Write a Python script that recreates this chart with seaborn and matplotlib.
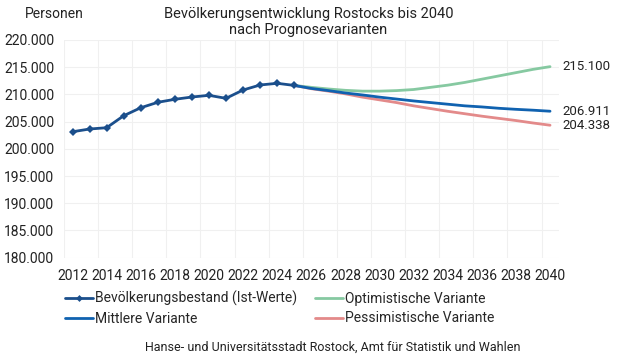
import matplotlib
matplotlib.use("Agg")
import matplotlib.pyplot as plt
from matplotlib.ticker import FixedLocator, FuncFormatter
from matplotlib.lines import Line2D
import seaborn as sns
import pandas as pd

# ---- data ----
hist_years = list(range(2012, 2026))
hist_values = [203.14, 203.64, 203.88, 206.08, 207.55, 208.55, 209.10, 209.52,
               209.83, 209.28, 210.81, 211.73, 212.04, 211.65]

proj_years = list(range(2025, 2041))
mittlere = [211.65, 211.1, 210.7, 210.26, 209.9, 209.5, 209.15, 208.8, 208.5,
            208.2, 207.9, 207.7, 207.45, 207.26, 207.1, 206.911]
optimistisch = [211.65, 211.3, 211.0, 210.75, 210.6, 210.6, 210.7, 210.9, 211.3,
                211.7, 212.2, 212.8, 213.4, 214.0, 214.6, 215.1]
pessimistisch = [211.65, 211.05, 210.6, 210.1, 209.5, 209.0, 208.5, 207.9, 207.4,
                 206.9, 206.45, 206.0, 205.6, 205.2, 204.75, 204.338]

end_labels = ["215.100", "206.911", "204.338"]
y_ticks = [180, 185, 190, 195, 200, 205, 210, 215, 220]
x_ticks = list(range(2012, 2041, 2))

s_hist = "Bevölkerungsbestand (Ist-Werte)"
s_mid = "Mittlere Variante"
s_opt = "Optimistische Variante"
s_pes = "Pessimistische Variante"

colors = {s_hist: "#1b4f8c", s_mid: "#1062b0", s_opt: "#86c9a1", s_pes: "#e38a8a"}

df = pd.concat([
    pd.DataFrame({"Jahr": proj_years, "Wert": optimistisch, "Serie": s_opt}),
    pd.DataFrame({"Jahr": proj_years, "Wert": pessimistisch, "Serie": s_pes}),
    pd.DataFrame({"Jahr": proj_years, "Wert": mittlere, "Serie": s_mid}),
], ignore_index=True)
df_hist = pd.DataFrame({"Jahr": hist_years, "Wert": hist_values, "Serie": s_hist})

sns.set_style("white")
plt.rcParams["font.family"] = ["Roboto", "DejaVu Sans"]

fig = plt.figure(figsize=(6.17, 3.57), dpi=100)
ax = fig.add_axes([0.1037, 0.2782, 0.8016, 0.6098])

sns.lineplot(data=df, x="Jahr", y="Wert", hue="Serie", palette=colors,
             linewidth=2, ax=ax, legend=False)
sns.lineplot(data=df_hist, x="Jahr", y="Wert", hue="Serie", palette=colors,
             linewidth=2, marker="D", markersize=4, markeredgewidth=0,
             ax=ax, legend=False)

ax.set_xlim(2011.5, 2040.5)
ax.set_ylim(180, 220)
ax.set_xticks(x_ticks)
ax.xaxis.set_minor_locator(FixedLocator([2011.5 + 2 * k for k in range(15)]))
ax.set_yticks(y_ticks)
ax.yaxis.set_major_formatter(FuncFormatter(lambda v, p: f"{int(v)}.000"))
ax.grid(False)
ax.grid(True, which="minor", axis="x", color="#f0f0f0", linewidth=0.8)
ax.grid(True, which="major", axis="y", color="#f0f0f0", linewidth=0.8)
ax.tick_params(axis="both", which="both", length=0, labelsize=10, colors="#222222")
ax.tick_params(axis="x", pad=8)
ax.tick_params(axis="y", pad=7)
for s in ax.spines.values():
    s.set_visible(False)
ax.set_xlabel("")
ax.set_ylabel("")

# end labels
for val, lab in zip([optimistisch[-1], mittlere[-1], pessimistisch[-1]], end_labels):
    ax.annotate(lab, xy=(2040, val), xytext=(9, 0), textcoords="offset points",
                va="center", ha="left", fontsize=9.5, color="#222222",
                annotation_clip=False)

fig.text(0.04, 0.96, "Personen", fontsize=10, ha="left", va="center", color="#222222")
fig.text(0.5, 0.96, "Bevölkerungsentwicklung Rostocks bis 2040", fontsize=10.5,
         ha="center", va="center", color="#222222")
fig.text(0.5, 0.915, "nach Prognosevarianten", fontsize=10.5,
         ha="center", va="center", color="#222222")

handles = [
    Line2D([], [], color=colors[s_hist], lw=2, marker="D", markersize=3.5, markeredgewidth=0),
    Line2D([], [], color=colors[s_mid], lw=2),
    Line2D([], [], color=colors[s_opt], lw=2),
    Line2D([], [], color=colors[s_pes], lw=2),
]
labels = [s_hist, s_mid, s_opt, s_pes]
fig.legend(handles, labels, ncol=2, loc="upper left",
           bbox_to_anchor=(0.105, 1 - 291 / 357),
           frameon=False, fontsize=10, handlelength=2.0, handletextpad=0.15,
           columnspacing=1.3, labelspacing=0.4, borderaxespad=0, borderpad=0)

fig.text(0.539, 1 - 347 / 357, "Hanse- und Universitätsstadt Rostock, Amt für Statistik und Wahlen",
         fontsize=9, ha="center", va="center", color="#222222")

fig.savefig("out.png", dpi=100)
